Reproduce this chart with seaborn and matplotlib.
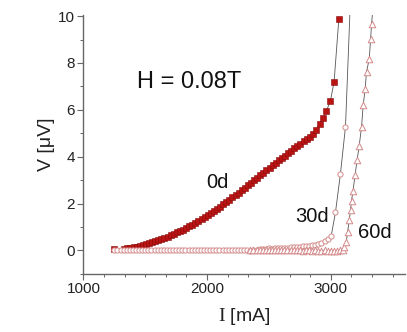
import matplotlib
matplotlib.use("Agg")
import matplotlib.pyplot as plt
from matplotlib.ticker import MultipleLocator
import seaborn as sns

# ---- I-V data at H = 0.08 T (current in mA, voltage in microvolts) ----
i_0d = [1250, 1330, 1355, 1380, 1405, 1430, 1455, 1480, 1505, 1530, 1555, 1580,
        1605, 1630, 1655, 1680, 1705, 1730, 1755, 1780, 1805, 1830, 1855, 1880,
        1905, 1930, 1955, 1980, 2005, 2030, 2055, 2080, 2105, 2130, 2155, 2180,
        2205, 2230, 2255, 2280, 2305, 2330, 2355, 2380, 2405, 2430, 2455, 2480,
        2505, 2530, 2555, 2580, 2605, 2630, 2655, 2680, 2705, 2730, 2755, 2780,
        2805, 2830, 2855, 2880, 2910, 2938, 2965, 2997, 3027, 3065]
v_0d = [0.07, 0.07, 0.09, 0.11, 0.13, 0.16, 0.19, 0.22, 0.26, 0.30, 0.34, 0.39,
        0.43, 0.48, 0.54, 0.59, 0.65, 0.71, 0.77, 0.83, 0.89, 0.96, 1.03, 1.10,
        1.17, 1.25, 1.33, 1.41, 1.50, 1.59, 1.68, 1.77, 1.87, 1.97, 2.07, 2.17,
        2.27, 2.37, 2.47, 2.58, 2.68, 2.79, 2.89, 3.00, 3.10, 3.21, 3.31, 3.42,
        3.52, 3.63, 3.73, 3.84, 3.94, 4.05, 4.15, 4.26, 4.36, 4.46, 4.56, 4.66,
        4.76, 4.86, 4.97, 5.15, 5.40, 5.65, 5.96, 6.38, 7.20, 9.86]

i_30d = [1250, 1275, 1300, 1325, 1350, 1375, 1400, 1425, 1450, 1475, 1500, 1525,
         1550, 1575, 1600, 1625, 1650, 1675, 1700, 1725, 1750, 1775, 1800, 1825,
         1850, 1875, 1900, 1925, 1950, 1975, 2000, 2025, 2050, 2075, 2100, 2125,
         2150, 2175, 2200, 2225, 2250, 2275, 2300, 2325, 2350, 2375, 2400, 2425,
         2450, 2475, 2500, 2525, 2550, 2575, 2600, 2625, 2650, 2675, 2700, 2725,
         2750, 2775, 2800, 2825, 2850, 2875, 2900, 2925, 2950, 2975, 3003, 3038,
         3078, 3119, 3165]
v_30d = [0.00, 0.01, 0.01, 0.02, 0.01, 0.02, 0.01, 0.02, 0.02, 0.01, 0.02, 0.02,
         0.01, 0.02, 0.02, 0.01, 0.02, 0.02, 0.02, 0.01, 0.02, 0.02, 0.01, 0.02,
         0.02, 0.02, 0.01, 0.02, 0.02, 0.02, 0.02, 0.01, 0.02, 0.02, 0.03, 0.02,
         0.02, 0.03, 0.02, 0.02, 0.03, 0.02, 0.03, 0.02, -0.03, 0.03, 0.04, 0.06,
         0.08, 0.08, 0.09, 0.08, 0.09, 0.10, 0.10, 0.11, 0.12, 0.13, 0.14, 0.15,
         0.16, 0.17, 0.18, 0.20, 0.22, 0.25, 0.28, 0.33, 0.40, 0.48, 0.60, 1.63,
         3.26, 5.28, 11.5]

i_60d = [2350, 2375, 2400, 2425, 2450, 2475, 2500, 2525, 2550, 2575, 2600, 2625,
         2650, 2675, 2700, 2725, 2750, 2775, 2800, 2825, 2850, 2875, 2900, 2925,
         2950, 2975, 3000, 3025, 3050, 3075, 3095, 3111, 3125, 3136, 3149, 3160,
         3168, 3180, 3197, 3213, 3230, 3249, 3262, 3278, 3289, 3311, 3322, 3330,
         3345]
v_60d = [0.00, 0.01, 0.00, 0.01, 0.00, 0.01, 0.00, 0.00, 0.01, 0.00, 0.00, 0.01,
         0.00, 0.00, 0.01, 0.00, 0.00, -0.01, 0.00, 0.00, -0.01, 0.00, -0.01, -0.01,
         0.00, -0.02, -0.02, -0.03, -0.02, 0.00, 0.03, 0.14, 0.35, 0.78, 1.28, 1.73,
         2.13, 2.55, 3.23, 3.86, 4.47, 5.28, 6.20, 6.88, 7.63, 8.16, 9.01, 9.67,
         10.6]

x_ticks = [1000, 2000, 3000]
y_ticks = [0, 2, 4, 6, 8, 10]

sns.set_theme(style="ticks")
plt.rcParams["font.family"] = ["Liberation Sans", "DejaVu Sans"]
plt.rcParams["mathtext.fontset"] = "custom"
plt.rcParams["mathtext.rm"] = "Liberation Serif"

fig = plt.figure(figsize=(4.07, 3.32), dpi=100)
ax = fig.add_axes([0.205, 0.175, 0.79, 0.78])

line_kw = dict(color="#555555", linewidth=0.6, sort=False, legend=False, ax=ax)

# 0d: filled dark-red squares
sns.lineplot(x=i_0d, y=v_0d, **line_kw)
sns.scatterplot(x=i_0d, y=v_0d, marker="s", s=14, color="#b81414",
                edgecolor="#8a0a0a", linewidth=0.4, ax=ax, zorder=3)

# 30d: open pink circles
sns.lineplot(x=i_30d, y=v_30d, **line_kw)
sns.scatterplot(x=i_30d, y=v_30d, marker="o", s=14, facecolor="white",
                edgecolor="#d48a8a", linewidth=0.7, ax=ax, zorder=3)

# 60d: open pink triangles
sns.lineplot(x=i_60d, y=v_60d, **line_kw)
sns.scatterplot(x=i_60d, y=v_60d, marker="^", s=22, facecolor="white",
                edgecolor="#d48a8a", linewidth=0.7, ax=ax, zorder=3)

ax.set_xlim(1000, 3600)
ax.set_ylim(-1.0, 10.05)
ax.set_xticks(x_ticks)
ax.set_yticks(y_ticks)
ax.xaxis.set_minor_locator(MultipleLocator(1000 / 6))
ax.yaxis.set_minor_locator(MultipleLocator(1))

for side in ("top", "right"):
    ax.spines[side].set_visible(False)
for side in ("left", "bottom"):
    ax.spines[side].set_color("#666666")
    ax.spines[side].set_linewidth(1.0)

ax.tick_params(which="major", direction="out", length=4, width=0.8,
               color="#666666", labelsize=11, labelcolor="#222222", pad=2)
ax.tick_params(which="minor", direction="out", length=2, width=0.7,
               color="#666666")

ax.set_xlabel(r"$\mathrm{I}$ [mA]", fontsize=14, color="#222222", labelpad=7)
ax.set_ylabel("V [\u03bcV]", fontsize=14, color="#222222", labelpad=2)

ax.text(0.33, 0.741, "H = 0.08T", transform=ax.transAxes, fontsize=17,
        ha="center", va="center", color="#111111")
ax.text(2080, 2.92, "0d", fontsize=14.5, ha="center", va="center", color="#111111")
ax.text(2850, 1.43, "30d", fontsize=14.5, ha="center", va="center", color="#111111")
ax.text(3357, 0.75, "60d", fontsize=14.5, ha="center", va="center", color="#111111")

fig.savefig("out.png", dpi=100)
